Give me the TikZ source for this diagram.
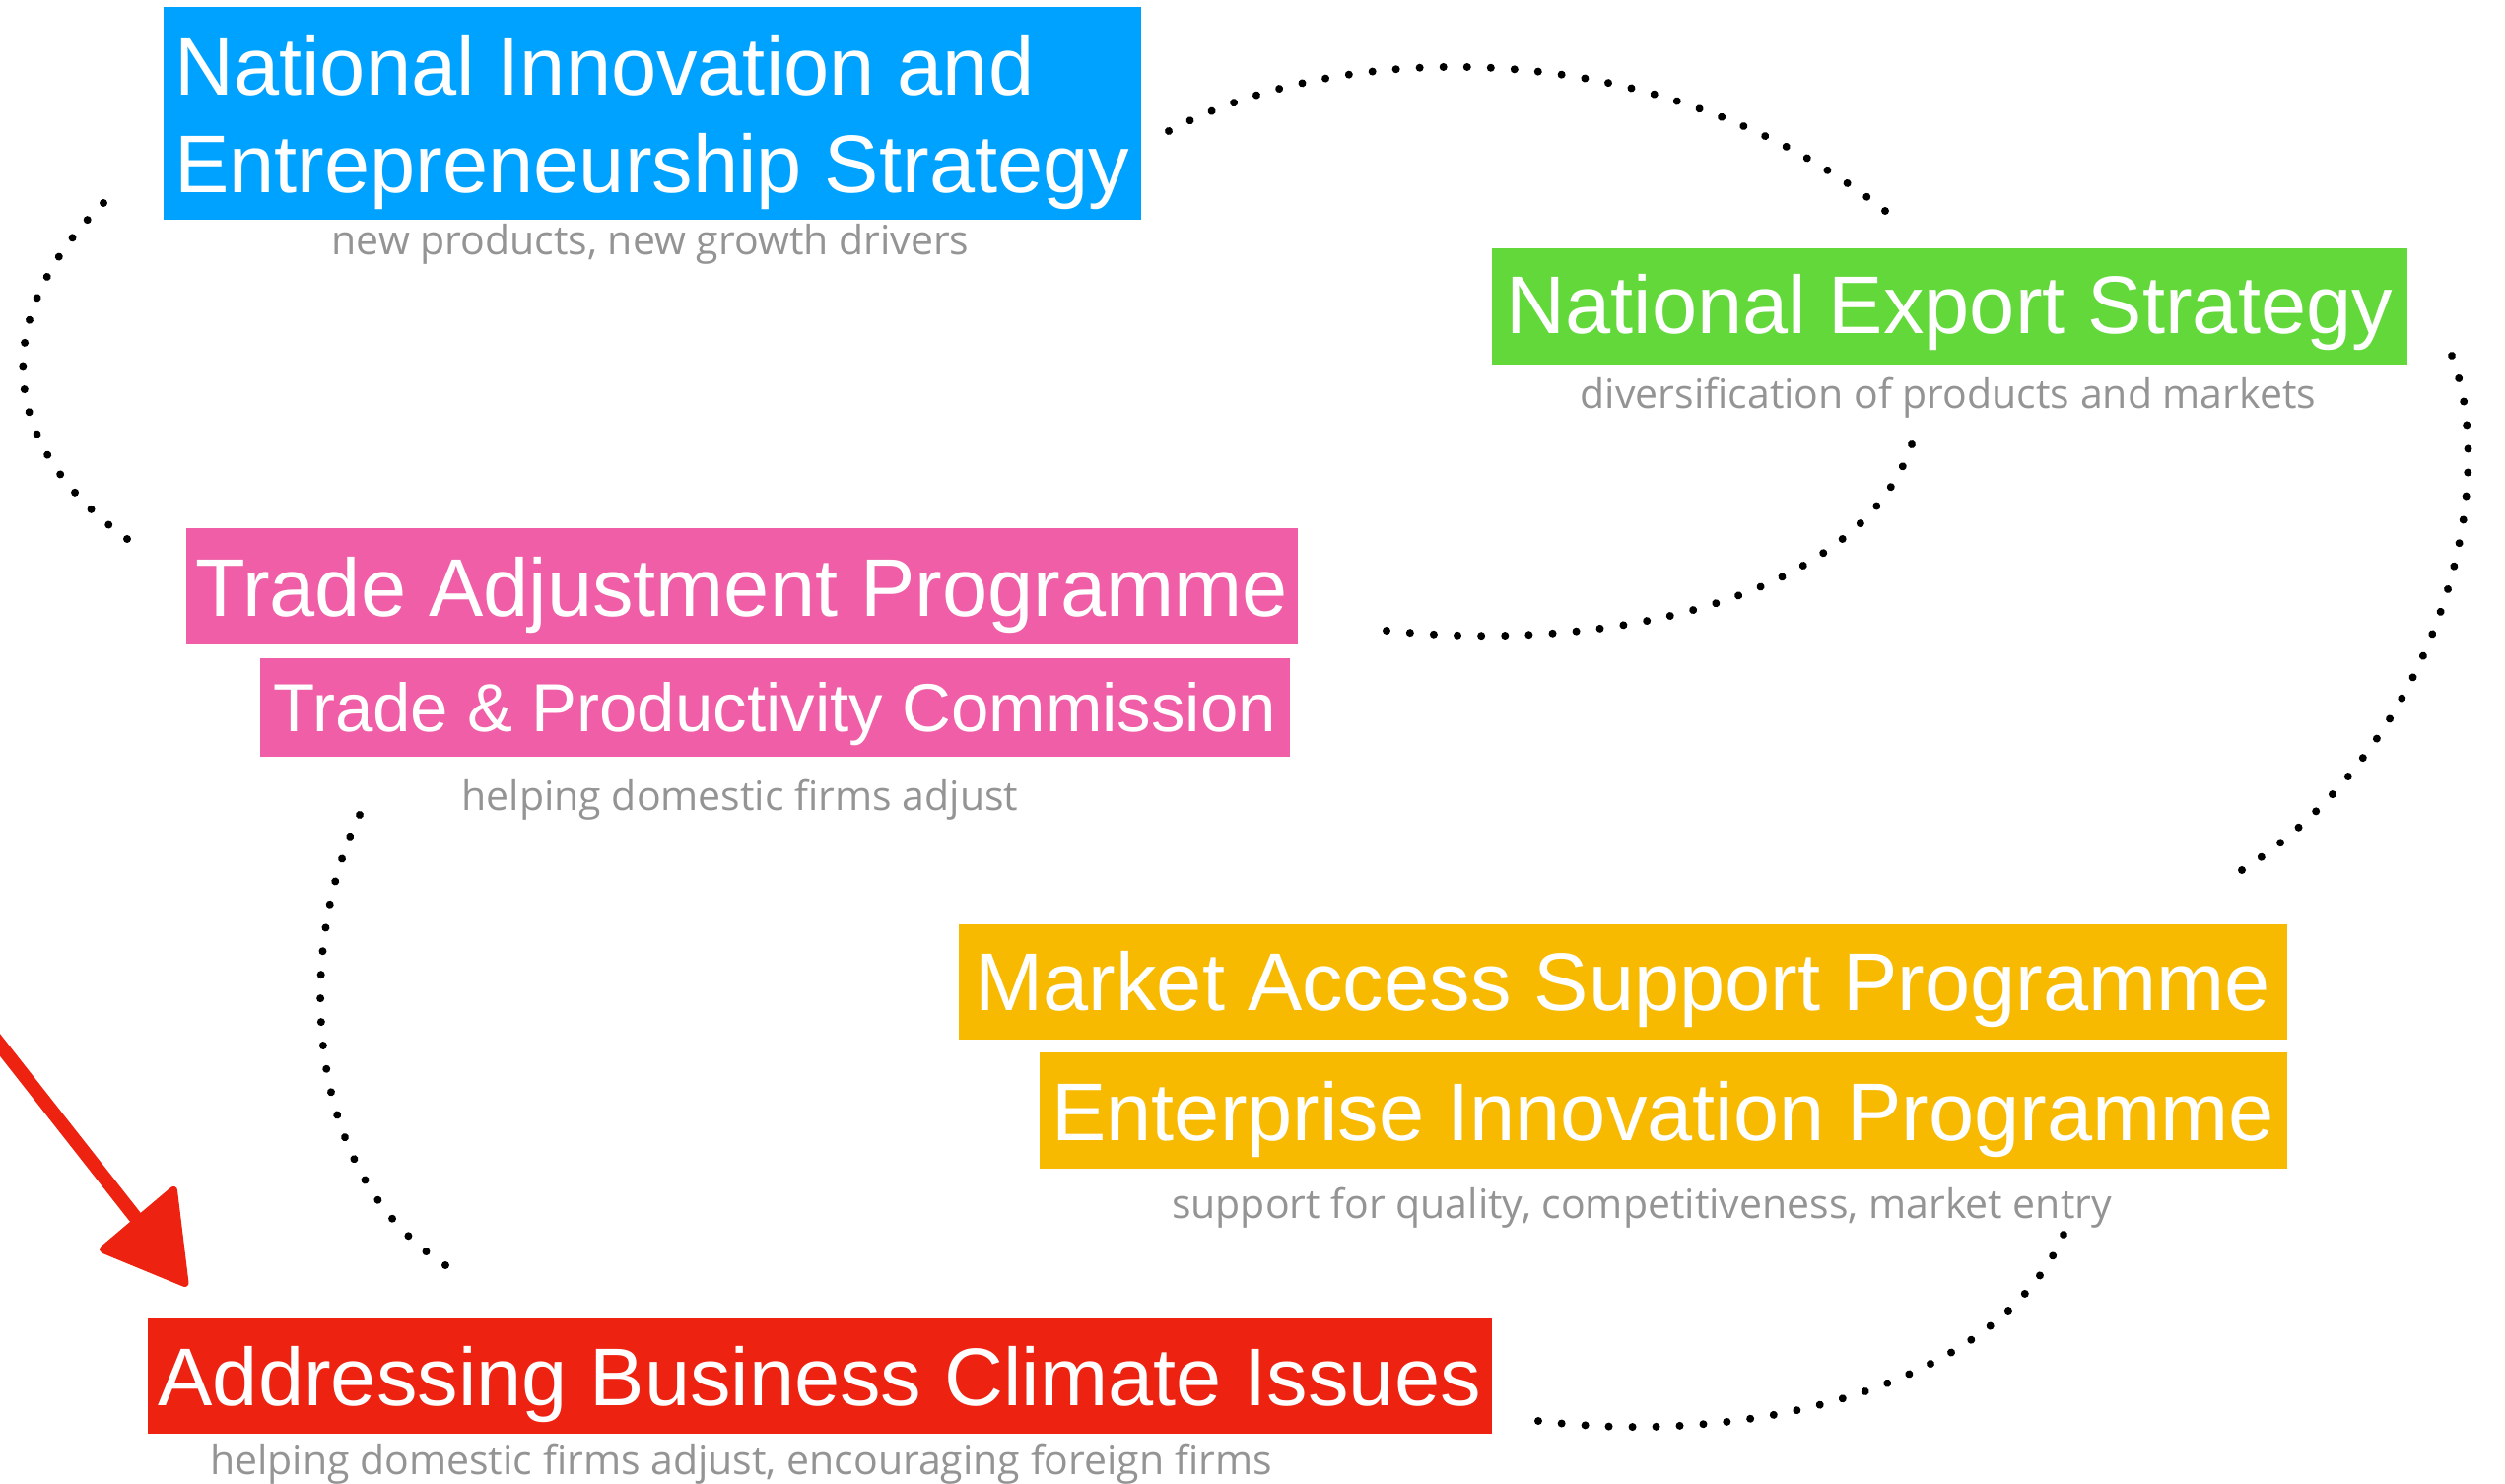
\documentclass[tikz,border=0pt]{standalone}
\usepackage{fontspec}
\usetikzlibrary{decorations.markings}
\setmainfont{Liberation Sans}
\newfontfamily\subfont{Open Sans}
\newdimen\px \px=0.25pt
\definecolor{niesblue}{RGB}{0,162,255}
\definecolor{nesgreen}{RGB}{98,216,58}
\definecolor{tappink}{RGB}{239,94,166}
\definecolor{maspgold}{RGB}{247,186,0}
\definecolor{abcired}{RGB}{238,34,17}
\definecolor{subgray}{RGB}{148,148,148}
\begin{document}
\begin{tikzpicture}[x=0.25pt,y=-0.25pt,
  titlebox/.style={rectangle, inner sep=0pt, text=white, anchor=north west, text depth=0pt,
    font=\fontsize{20.75pt}{24.75pt}\selectfont},
  smalltitle/.style={font=\fontsize{17.25pt}{20pt}\selectfont},
  subtitle/.style={anchor=base, inner sep=0pt, text=subgray, font=\subfont\fontsize{10.25pt}{12pt}\selectfont},
  dotline/.style={decorate, decoration={markings,
      mark=between positions 0 and 0.99 step #1 with {\fill[black] (0,0) circle (1pt);}}},
  enddot/.style={black},
  redarrow/.style={abcired, line width=3.5pt, line cap=round}]
\useasboundingbox (0,0) rectangle (2542,1506);

% boxes
\node[titlebox, fill=niesblue, minimum width=992\px, minimum height=216\px, text height=162\px]
  (nies) at (165,6) {\vbox{\baselineskip=24.75pt\hbox{National Innovation and}\hbox{Entrepreneurship Strategy}}};
\node[titlebox, fill=nesgreen, minimum width=929\px, minimum height=118\px, text height=56\px]
  (nes) at (1513,251) {National Export Strategy};
\node[titlebox, fill=tappink, minimum width=1128\px, minimum height=118\px, text height=62\px]
  (tap) at (188,535) {Trade Adjustment Programme};
\node[titlebox, smalltitle, fill=tappink, minimum width=1045\px, minimum height=100\px, text height=50\px]
  (tpc) at (263,667) {Trade \& Productivity Commission};
\node[titlebox, fill=maspgold, minimum width=1348\px, minimum height=117\px, text height=59\px]
  (masp) at (972,937) {Market Access Support Programme};
\node[titlebox, fill=maspgold, minimum width=1266\px, minimum height=118\px, text height=62\px]
  (eip) at (1054,1067) {Enterprise Innovation Programme};
\node[titlebox, fill=abcired, minimum width=1364\px, minimum height=117\px, text height=60\px]
  (abci) at (149,1337) {Addressing Business Climate Issues};

% subtitles
\node[subtitle] (niessub) at (660,259) {new products, new growth drivers};
\node[subtitle] (nessub) at (1977,415) {diversification of products and markets};
\node[subtitle] (tpcsub) at (751,823) {helping domestic firms adjust};
\node[subtitle] (eipsub) at (1666,1237) {support for quality, competitiveness, market entry};
\node[subtitle] (abcisub) at (752,1497) {helping domestic firms adjust, encouraging foreign firms};

% dotted loops
\coordinate (a1) at (1186,133);  \coordinate (a2) at (1913,214);
\coordinate (b1) at (2488,361);  \coordinate (b2) at (2275,883);
\coordinate (c1) at (1940,451);  \coordinate (c2) at (1407,640);
\coordinate (d1) at (105,206);   \coordinate (d2) at (129,547);
\coordinate (e1) at (365,827);   \coordinate (e2) at (452,1284);
\coordinate (f1) at (2094,1253); \coordinate (f2) at (1561,1442);
\path[dotline=0.03125] (a1) .. controls (1360,40) and (1680,30) .. (a2);
\path[dotline=0.04] (b1) .. controls (2540,500) and (2470,760) .. (b2);
\path[dotline=0.04] (c1) .. controls (1890,600) and (1650,665) .. (c2);
\path[dotline=0.0588235] (d1) .. controls (-10,320) and (-5,450) .. (d2);
\path[dotline=0.047619] (e1) .. controls (300,960) and (305,1190) .. (e2);
\path[dotline=0.04] (f1) .. controls (2030,1400) and (1790,1470) .. (f2);
\foreach \p in {a2,b2,c2,d2,e2,f2} \fill[enddot] (\p) circle (1pt);

% red arrow
\coordinate (arrtail) at (-20,1035);
\coordinate (arrbase) at (141,1240);
\coordinate (arrtip) at (187.5,1302);
\draw[redarrow] (arrtail) -- (arrbase);
\draw[abcired, fill=abcired, line width=2pt, line join=round] (176,1208) -- (105,1268) -- (arrtip) -- cycle;
\end{tikzpicture}
\end{document}
